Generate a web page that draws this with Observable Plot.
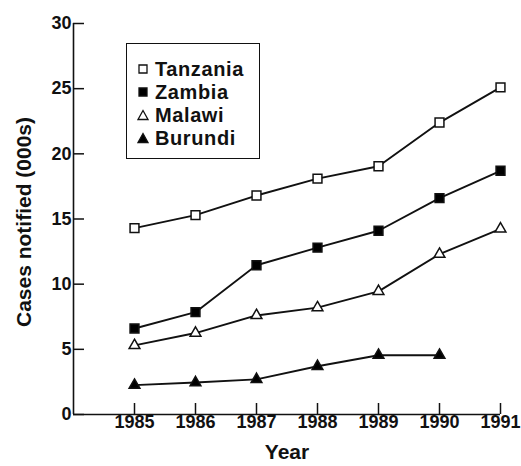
<!DOCTYPE html>
<html>
<head>
<meta charset="utf-8">
<script src="https://cdn.jsdelivr.net/npm/d3@7"></script>
<script src="https://cdn.jsdelivr.net/npm/@observablehq/plot@0.6"></script>
<style>
  html, body { margin: 0; padding: 0; background: #fff; }
  #wrap { position: relative; width: 521px; height: 466px; font-family: "Liberation Sans", Arial, Helvetica, sans-serif; color: #111; }
  #legend { position: absolute; left: 126px; top: 43px; width: 134px; height: 116px; box-sizing: border-box; border: 1.5px solid #111; background: #fff; }
  .row { position: absolute; left: 0; height: 22px; display: flex; align-items: center; }
  .row svg { display: block; margin-left: 10px; margin-right: 6px; }
  .row span { font-size: 20px; font-weight: bold; letter-spacing: 0.6px; line-height: 22px; }
</style>
</head>
<body>
<div id="wrap"></div>
<script>
const years = [1985, 1986, 1987, 1988, 1989, 1990, 1991];
const countries = ["Tanzania", "Zambia", "Malawi", "Burundi"];
const tanzania = [14.3, 15.3, 16.8, 18.1, 19.05, 22.4, 25.1];
const zambia   = [6.6, 7.85, 11.45, 12.8, 14.1, 16.6, 18.7];
const malawi   = [5.3, 6.25, 7.6, 8.2, 9.45, 12.3, 14.25];
const burundi  = [2.25, 2.45, 2.7, 3.7, 4.55, 4.55];
const yTicks = [0, 5, 10, 15, 20, 25, 30];
const fills = ["white", "black", "white", "black"];
const symbols = ["square", "square", "triangle", "triangle"];

const seriesValues = [tanzania, zambia, malawi, burundi];
const data = [];
countries.forEach((c, i) => {
  seriesValues[i].forEach((v, j) => data.push({country: c, year: years[j], value: v}));
});
const squares = data.filter(d => symbols[countries.indexOf(d.country)] === "square");
const triangles = data.filter(d => symbols[countries.indexOf(d.country)] === "triangle");

const W = 521, H = 466, mL = 73, mR = 21, mT = 23, mB = 52;
const frameW = W - mL - mR, frameH = H - mT - mB;
const ink = "#111";
const chart = Plot.plot({
  width: W,
  height: H,
  marginLeft: mL,
  marginRight: mR,
  marginTop: mT,
  marginBottom: mB,
  style: {fontFamily: '"Liberation Sans", Arial, Helvetica, sans-serif', fontSize: "18px", fontWeight: "bold", color: ink, background: "white", overflow: "visible"},
  x: {domain: [1984, 1991]},
  y: {domain: [0, 30]},
  color: {domain: countries, range: fills},
  symbol: {domain: countries, range: symbols},
  marks: [
    Plot.axisY({ticks: yTicks, tickSize: 0, tickPadding: 2, label: null, fontSize: 18, letterSpacing: "0.2px"}),
    Plot.axisX({ticks: years, tickSize: 0, tickPadding: 1, tickFormat: "d", label: null, fontSize: 18, letterSpacing: "0.2px"}),
    Plot.tickY(yTicks, {y: d => d, insetRight: frameW - 11, stroke: ink, strokeWidth: 1.5}),
    Plot.tickX(years, {x: d => d, insetTop: frameH - 11, stroke: ink, strokeWidth: 1.5}),
    Plot.ruleX([1984], {stroke: ink, strokeWidth: 1.6}),
    Plot.ruleY([0], {stroke: ink, strokeWidth: 1.6}),
    Plot.line(data, {x: "year", y: "value", z: "country", stroke: ink, strokeWidth: 1.9}),
    Plot.dot(squares, {x: "year", y: "value", symbol: "country", fill: "country", stroke: ink, strokeWidth: 1.5, r: 5}),
    Plot.dot(triangles, {x: "year", y: "value", symbol: "country", fill: "country", stroke: ink, strokeWidth: 1.5, r: 4}),
    Plot.text(["Year"], {frameAnchor: "bottom", dy: 30, lineAnchor: "top", fontSize: 21, fontWeight: "bold", fill: ink, letterSpacing: "0.4px"}),
    Plot.text(["Cases notified (000s)"], {frameAnchor: "left", textAnchor: "middle", dx: -49, dy: 3, rotate: -90, fontSize: 21, fontWeight: "bold", fill: ink, letterSpacing: "0.4px"})
  ]
});
const wrap = document.getElementById("wrap");
wrap.appendChild(chart);

// legend
const legend = document.createElement("div");
legend.id = "legend";
const symPaths = {
  square: "M2,2H10V10H2Z",
  triangle: "M6,1.5L11,10.5H1Z"
};
countries.forEach((c, i) => {
  const row = document.createElement("div");
  row.className = "row";
  row.style.top = (14 + i * 23) + "px";
  row.innerHTML = `<svg width="12" height="12"><path d="${symPaths[symbols[i]]}" fill="${fills[i]}" stroke="${ink}" stroke-width="1.3"/></svg><span>${c}</span>`;
  legend.appendChild(row);
});
wrap.appendChild(legend);
</script>
</body>
</html>
